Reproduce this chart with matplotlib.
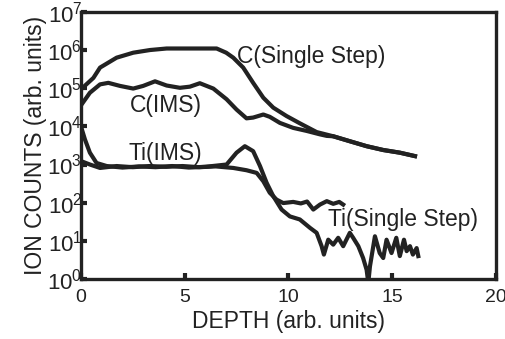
import matplotlib
matplotlib.use("Agg")
import matplotlib.pyplot as plt
import numpy as np

plt.rcParams['font.family'] = ['Liberation Sans', 'DejaVu Sans']
plt.rcParams['mathtext.fontset'] = 'custom'
plt.rcParams['mathtext.rm'] = 'Liberation Sans'

# depth (arb. units) and log10 ion counts
c_single_x = [0, 0.6, 0.92, 1.72, 2.52, 3.33, 4.13, 5.3, 6.54, 7.0, 7.34, 7.82, 8.3, 8.79, 9.27,
              9.91, 10.55, 11.36, 12.16, 12.96, 13.77, 14.57, 15.37, 16.1]
c_single_y = [4.97, 5.27, 5.54, 5.8, 5.93, 6.0, 6.04, 6.04, 6.04, 5.93, 5.8, 5.54, 5.14, 4.75, 4.49,
              4.27, 4.08, 3.85, 3.74, 3.61, 3.48, 3.38, 3.31, 3.22]

c_ims_x = [0, 0.43, 0.92, 1.32, 1.88, 2.52, 3.0, 3.57, 4.13, 4.77, 5.25, 5.73, 6.38, 7.02, 7.5,
           7.98, 8.3, 8.79, 9.1, 9.59, 10.23, 10.88, 11.52, 11.85, 12.16, 12.96, 13.77, 14.57, 15.37, 16.1]
c_ims_y = [4.55, 4.88, 5.1, 5.14, 5.06, 4.99, 5.06, 5.18, 5.07, 5.01, 5.04, 5.13, 4.99, 4.71, 4.44,
           4.21, 4.23, 4.31, 4.25, 4.09, 3.96, 3.88, 3.79, 3.75, 3.74, 3.61, 3.48, 3.38, 3.31, 3.22]

ti_a_x = [0, 0.19, 0.43, 0.75, 1.24, 2.0, 2.8, 3.6, 4.4, 5.2, 6.0, 7.02, 7.5, 7.9, 8.3, 8.63, 8.95,
          9.27, 9.67, 10.07, 10.55, 11.04, 11.36, 11.6, 11.71, 11.92, 12.16, 12.4, 12.64, 12.96,
          13.12, 13.37, 13.6, 13.77, 13.85, 13.93, 14.17, 14.4, 14.57, 14.73, 14.97, 15.2, 15.37,
          15.57, 15.7, 15.86, 16.0, 16.18, 16.26]
ti_a_y = [4.0, 3.66, 3.31, 3.04, 2.96, 2.92, 2.95, 2.93, 2.96, 2.92, 2.94, 3.0, 3.31, 3.48, 3.35,
          2.96, 2.52, 2.17, 1.82, 1.64, 1.56, 1.34, 1.21, 0.86, 0.64, 1.03, 0.9, 1.08, 0.86, 1.21,
          1.08, 0.86, 0.55, 0.24, -0.1, 0.33, 1.12, 0.68, 0.55, 1.03, 0.68, 1.08, 0.6,
          1.03, 0.73, 0.86, 0.64, 0.81, 0.6]

ti_b_x = [0, 0.43, 0.92, 1.72, 2.5, 3.3, 4.1, 4.9, 5.7, 6.5, 7.34, 7.98, 8.47, 8.79, 9.1, 9.43,
          9.75, 10.23, 10.6, 10.9, 11.2, 11.52, 11.85, 12.16, 12.45, 12.64]
ti_b_y = [3.09, 3.0, 2.91, 2.96, 2.93, 2.96, 2.94, 2.96, 2.93, 2.95, 2.91, 2.85, 2.78, 2.56, 2.26,
          2.08, 1.99, 2.02, 1.98, 2.03, 1.82, 1.95, 2.04, 1.97, 2.02, 1.95]

fig = plt.figure(figsize=(5.06, 3.39), dpi=100)
ax = fig.add_axes([0.16, 0.177, 0.82, 0.788])

col = "#222222"
for xs, ys in [(c_single_x, c_single_y), (c_ims_x, c_ims_y), (ti_a_x, ti_a_y), (ti_b_x, ti_b_y)]:
    ax.plot(xs, 10 ** np.array(ys), color=col, lw=3)

ax.set_yscale("log")
ax.set_xlim(0, 20)
ax.set_ylim(1, 1e7)
ax.set_xticks([0, 5, 10, 15, 20])
ax.set_yticks([10 ** i for i in range(8)])
ax.minorticks_off()
ax.tick_params(direction="in", length=4, width=3, colors=col)
ax.tick_params(axis="x", pad=7, labelsize=14)
ax.tick_params(axis="y", pad=-1, labelsize=16)
for s in ax.spines.values():
    s.set_linewidth(2.4)
    s.set_color(col)

ax.set_xlabel("DEPTH (arb. units)", fontsize=16.5, color=col, labelpad=3)
ax.set_ylabel("ION COUNTS (arb. units)", fontsize=16.5, color=col, labelpad=0)

ax.text(7.5, 10 ** 5.84, "C(Single Step)", fontsize=16.5, color=col, va="center")
ax.text(2.36, 10 ** 4.55, "C(IMS)", fontsize=16.5, color=col, va="center")
ax.text(2.28, 10 ** 3.3, "Ti(IMS)", fontsize=16.5, color=col, va="center")
ax.text(11.92, 10 ** 1.56, "Ti(Single Step)", fontsize=16.5, color=col, va="center")

fig.savefig("out.png", dpi=100)
